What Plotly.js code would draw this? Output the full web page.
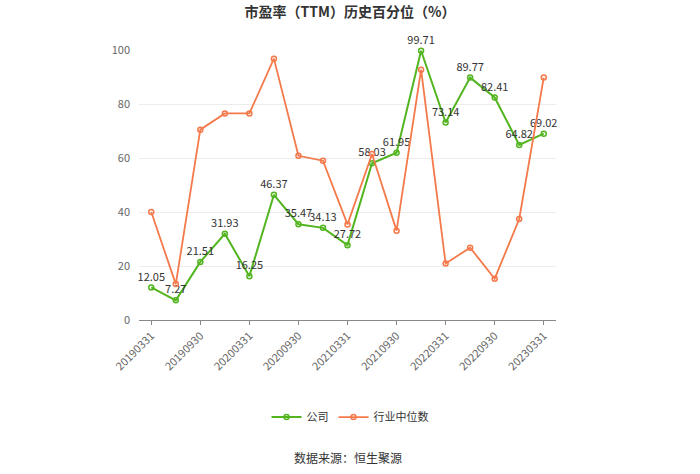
<!DOCTYPE html>
<html>
<head>
<meta charset="utf-8">
<script src="https://cdn.plot.ly/plotly-3.0.1.min.js"></script>
<style>html,body{margin:0;padding:0;background:#fff;}#chart{width:700px;height:474px;}</style>
</head>
<body>
<div id="chart"></div>
<script>
const categories = ["20190331","20190630","20190930","20191231","20200331","20200630","20200930","20201231","20210331","20210630","20210930","20211231","20220331","20220630","20220930","20221231","20230331"];
const companyValues = [12.05,7.27,21.51,31.93,16.25,46.37,35.47,34.13,27.72,58.03,61.95,99.71,73.14,89.77,82.41,64.82,69.02];
const industryValues = [40,13.3,70.5,76.5,76.5,96.8,60.8,59,35.4,61.5,33.1,92.7,20.9,26.8,15.3,37.4,89.8];
const tickLabels = ["20190331","20190930","20200331","20200930","20210331","20210930","20220331","20220930","20230331"];
const seriesNames = ["公司","行业中位数"];
const titleText = "市盈率（TTM）历史百分位（%）";
const sourceText = "数据来源：恒生聚源";

const green = "#52b520";
const orange = "#f4794b";
const font = "'Noto Sans CJK SC', 'Noto Sans', sans-serif";

const traces = [
  {
    x: categories, y: companyValues, name: seriesNames[0],
    type: "scatter", mode: "lines+markers+text",
    text: companyValues.map(v => v.toFixed(2)),
    textposition: "top center",
    textfont: {size: 11, color: "#333", family: font},
    line: {color: green, width: 2},
    marker: {symbol: "circle-open", size: 5, color: green, line: {width: 1.5, color: green}},
    cliponaxis: false
  },
  {
    x: categories, y: industryValues, name: seriesNames[1],
    type: "scatter", mode: "lines+markers",
    line: {color: orange, width: 1.8},
    marker: {symbol: "circle-open", size: 5, color: orange, line: {width: 1.5, color: orange}},
    cliponaxis: false
  }
];

const layout = {
  width: 700, height: 474,
  margin: {l: 139, r: 144, t: 50, b: 154, autoexpand: false},
  paper_bgcolor: "#fff", plot_bgcolor: "#fff",
  font: {family: font, color: "#666"},
  title: {text: titleText, x: 0.5, xanchor: "center", y: 0.975, yanchor: "middle",
          font: {size: 14, color: "#333", family: font, weight: "bold"}},
  xaxis: {
    type: "category", range: [-0.5, categories.length - 0.5],
    tickmode: "array", tickvals: tickLabels, ticktext: tickLabels,
    tickangle: -45, ticks: "outside", ticklen: 4, tickcolor: "#888",
    showline: true, linecolor: "#888", linewidth: 1,
    showgrid: false, zeroline: false, automargin: false,
    tickfont: {size: 11, color: "#666"}
  },
  yaxis: {
    range: [0, 100], tickvals: [0,20,40,60,80,100],
    showgrid: true, gridcolor: "#ececec", gridwidth: 1,
    zeroline: false, showline: false, automargin: false,
    tickfont: {size: 11, color: "#666"}, ticks: "", ticklabelstandoff: 8
  },
  showlegend: true,
  legend: {orientation: "h", x: 0.5, xanchor: "center", xref: "container",
           y: 0.12, yanchor: "middle", yref: "container",
           font: {size: 11, color: "#333"}},
  annotations: [{
    text: sourceText, xref: "paper", yref: "paper", x: 0.5, xanchor: "center",
    y: -0.508, yanchor: "middle", showarrow: false, font: {size: 12, color: "#333"}
  }]
};

Plotly.newPlot("chart", traces, layout, {displayModeBar: false, staticPlot: true});
</script>
</body>
</html>
